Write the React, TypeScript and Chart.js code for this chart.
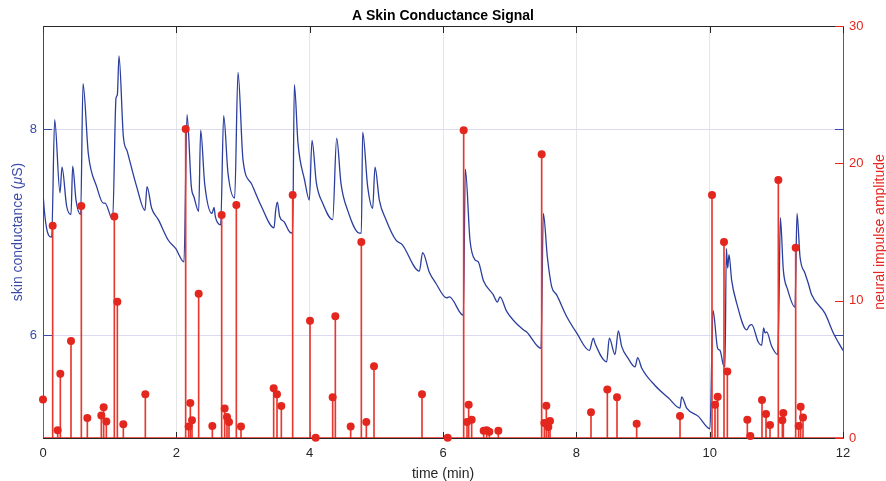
import React, { useEffect, useRef } from "react";
import { Chart, registerables } from "chart.js";

Chart.register(...registerables);

// Skin conductance signal (time in min, value in µS)
const signalTime = [
  0, 0.005, 0.13, 0.175, 0.255, 0.285, 0.355, 0.42, 0.445, 0.495, 0.565, 0.6, 0.68, 0.805, 0.905, 0.93,
  1.045, 1.095, 1.115, 1.14, 1.205, 1.265, 1.405, 1.53, 1.56, 1.63, 1.73, 1.88, 1.99, 2.115, 2.16, 2.225,
  2.265, 2.335, 2.365, 2.425, 2.535, 2.565, 2.585, 2.665, 2.71, 2.775, 2.875, 2.925, 3.0, 3.125, 3.275,
  3.465, 3.49, 3.515, 3.55, 3.615, 3.7, 3.745, 3.77, 3.825, 3.925, 3.995, 4.035, 4.1, 4.195, 4.345, 4.405,
  4.47, 4.57, 4.745, 4.775, 4.795, 4.87, 4.945, 4.98, 5.045, 5.145, 5.295, 5.385, 5.645, 5.695, 5.795,
  5.895, 6.055, 6.095, 6.305, 6.335, 6.405, 6.48, 6.53, 6.605, 6.755, 6.815, 6.855, 6.955, 7.205, 7.255,
  7.47, 7.505, 7.565, 7.63, 7.705, 7.855, 8.005, 8.195, 8.255, 8.28, 8.455, 8.495, 8.58, 8.63, 8.68, 8.78,
  8.88, 8.92, 8.98, 9.18, 9.38, 9.555, 9.58, 9.655, 9.83, 10.005, 10.05, 10.12, 10.155, 10.205, 10.23,
  10.25, 10.27, 10.29, 10.33, 10.405, 10.555, 10.595, 10.63, 10.73, 10.78, 10.81, 10.83, 10.855, 10.93,
  11.02, 11.04, 11.06, 11.105, 11.17, 11.28, 11.31, 11.355, 11.43, 11.48, 11.53, 11.73, 11.855, 12.0,
];
const signalValue = [
  9.0, 7.33, 6.95, 8.09, 7.38, 7.63, 7.25, 7.17, 7.64, 7.31, 7.17, 8.44, 7.76, 7.44, 7.28, 7.28,
  7.12, 8.3, 8.33, 8.71, 7.93, 7.78, 7.44, 7.21, 7.44, 7.23, 7.12, 6.92, 6.84, 6.71, 8.14, 7.44,
  7.34, 7.2, 7.99, 7.47, 7.18, 7.24, 7.15, 7.07, 8.13, 7.57, 7.33, 8.55, 7.7, 7.47, 7.25,
  7.04, 7.21, 7.29, 7.15, 7.1, 7.0, 6.99, 8.43, 7.86, 7.5, 7.31, 7.89, 7.48, 7.28, 7.12, 7.91,
  7.47, 7.21, 6.99, 6.99, 7.97, 7.44, 7.23, 7.63, 7.31, 7.12, 6.92, 6.88, 6.62, 6.8, 6.61,
  6.5, 6.36, 6.37, 6.19, 7.61, 6.92, 6.73, 6.71, 6.53, 6.39, 6.32, 6.37, 6.23, 6.05, 6.03,
  5.87, 7.18, 6.76, 6.47, 6.39, 6.18, 6.02, 5.85, 5.97, 5.92, 5.74, 5.97, 5.81, 6.04, 5.89, 5.77,
  5.69, 5.78, 5.68, 5.51, 5.39, 5.29, 5.4, 5.29, 5.21, 5.09, 6.24, 5.87, 5.85, 5.71, 5.69,
  6.84, 6.65, 6.78, 6.53, 6.31, 6.05, 6.09, 6.1, 5.93, 5.9, 6.07, 6.02, 6.03, 5.89,
  5.81, 6.31, 7.14, 6.63, 6.44, 6.27, 7.18, 6.76, 6.6, 6.5, 6.39, 6.21, 6.02, 5.85,
];

// Neural impulses (time in min, amplitude)
const impulseTime = [
  0, 0.145, 0.22, 0.26, 0.42, 0.575, 0.665, 0.875, 0.91, 0.95, 1.07, 1.115, 1.205, 1.535,
  2.14, 2.185, 2.21, 2.235, 2.335, 2.54, 2.68, 2.725, 2.76, 2.79, 2.9, 2.97, 3.46, 3.51, 3.575, 3.745,
  4.005, 4.09, 4.345, 4.385, 4.615, 4.775, 4.85, 4.965, 5.685, 6.07, 6.31, 6.36, 6.385, 6.43,
  6.61, 6.655, 6.695, 6.83, 7.48, 7.52, 7.55, 7.58, 7.605, 8.22, 8.465, 8.61, 8.905, 9.555,
  10.035, 10.08, 10.12, 10.215, 10.265, 10.565, 10.61, 10.785, 10.845, 10.905, 11.03, 11.09, 11.105,
  11.29, 11.335, 11.365, 11.4,
];
const impulseAmp = [
  2.8, 15.46, 0.56, 4.68, 7.06, 16.9, 1.46, 1.63, 2.23, 1.21, 16.12, 9.93, 1.0, 3.18,
  22.5, 0.83, 2.55, 1.29, 10.51, 0.87, 16.24, 2.14, 1.53, 1.17, 16.97, 0.83, 3.62, 3.18, 2.33, 17.7,
  8.54, 0.02, 2.96, 8.86, 0.83, 14.27, 1.17, 5.22, 3.18, 0.02, 22.4, 1.17, 2.43, 1.33,
  0.53, 0.56, 0.46, 0.53, 20.66, 1.09, 2.35, 0.8, 1.24, 1.87, 3.54, 2.96, 1.04, 1.6,
  17.7, 2.43, 3.01, 14.27, 4.85, 1.33, 0.15, 2.77, 1.75, 0.95, 18.79, 1.29, 1.82,
  13.86, 0.87, 2.28, 1.5,
];

const xTicks = [0, 2, 4, 6, 8, 10, 12];
const leftTicks = [6, 8];
const rightTicks = [0, 10, 20, 30];

const FONT = "'Liberation Sans', Arial, Helvetica, sans-serif";
const BLUE = "#2b3e9e";
const AXBLUE = "#3a4ca8";
const RED = "#e3271f";
const STEM = "#e6382f";
const DARK = "#262626";

export default function App() {
  const ref = useRef<HTMLCanvasElement>(null);

  useEffect(() => {
    const canvas = ref.current!;
    const signal = signalTime.map((t, i) => ({ x: t, y: signalValue[i] }));
    const impulses = impulseTime.map((t, i) => ({ x: t, y: impulseAmp[i] }));

    const decor = {
      id: "decor",
      beforeDatasetsDraw(chart: any) {
        const { ctx, chartArea, scales } = chart;
        const { left, right, top, bottom } = chartArea;
        const seg = (x1: number, y1: number, x2: number, y2: number, c: string) => {
          ctx.strokeStyle = c;
          ctx.beginPath();
          ctx.moveTo(x1, y1);
          ctx.lineTo(x2, y2);
          ctx.stroke();
        };
        ctx.save();
        ctx.lineWidth = 1;
        seg(left, top + 0.5, right + 1, top + 0.5, DARK);
        seg(left, bottom + 0.5, right + 1, bottom + 0.5, DARK);
        seg(left + 0.5, top, left + 0.5, bottom + 1, AXBLUE);
        seg(right + 0.5, top, right + 0.5, bottom + 1, RED);
        for (const v of xTicks) {
          const px = Math.round(scales.x.getPixelForValue(v)) + 0.5;
          seg(px, top, px, top + 7, DARK);
          seg(px, bottom + 1, px, bottom - 6, DARK);
        }
        for (const v of leftTicks) {
          const py = Math.round(scales.y.getPixelForValue(v)) + 0.5;
          seg(left, py, left + 9, py, AXBLUE);
          seg(right + 1, py, right - 8, py, AXBLUE);
        }
        for (const v of rightTicks) {
          const py = Math.round(scales.y1.getPixelForValue(v)) + 0.5;
          seg(right + 1, py, right - 8, py, RED);
        }
        ctx.restore();
      },
      afterDraw(chart: any) {
        const { ctx, chartArea } = chart;
        const { left, right, top, bottom } = chartArea;
        const midX = (left + right) / 2;
        const midY = (top + bottom) / 2;
        ctx.save();
        ctx.fillStyle = "#000";
        ctx.font = `bold 14px ${FONT}`;
        ctx.textAlign = "center";
        ctx.textBaseline = "alphabetic";
        ctx.fillText("A Skin Conductance Signal", 443, 20);

        ctx.font = `14px ${FONT}`;
        ctx.fillStyle = DARK;
        ctx.textBaseline = "middle";
        ctx.fillText("time (min)", midX, 474);

        // left title with italic mu
        const parts = [
          { t: "skin conductance (", f: `14px ${FONT}` },
          { t: "\u03bc", f: `italic 14px ${FONT}` },
          { t: "S)", f: `14px ${FONT}` },
        ];
        let total = 0;
        for (const p of parts) {
          ctx.font = p.f;
          total += ctx.measureText(p.t).width;
        }
        ctx.save();
        ctx.translate(18, midY);
        ctx.rotate(-Math.PI / 2);
        ctx.fillStyle = AXBLUE;
        ctx.textAlign = "left";
        let cx = -total / 2;
        for (const p of parts) {
          ctx.font = p.f;
          ctx.fillText(p.t, cx, 0);
          cx += ctx.measureText(p.t).width;
        }
        ctx.restore();

        ctx.save();
        ctx.translate(880, midY);
        ctx.rotate(-Math.PI / 2);
        ctx.fillStyle = RED;
        ctx.font = `14px ${FONT}`;
        ctx.textAlign = "center";
        ctx.fillText("neural impulse amplitude", 0, 0);
        ctx.restore();
        ctx.restore();
      },
    };

    const chart = new Chart(canvas, {
      type: "line",
      data: {
        datasets: [
          {
            type: "line",
            label: "signal",
            data: signal,
            yAxisID: "y",
            borderColor: BLUE,
            borderWidth: 1.3,
            pointRadius: 0,
            fill: false,
            cubicInterpolationMode: "monotone",
            order: 4,
          } as any,
          {
            type: "bar",
            label: "stems",
            data: impulses,
            yAxisID: "y1",
            backgroundColor: STEM,
            borderWidth: 0,
            barThickness: 1,
            order: 3,
          } as any,
          {
            type: "line",
            label: "baseline",
            data: [
              { x: 0, y: 0 },
              { x: 12, y: 0 },
            ],
            yAxisID: "y1",
            borderColor: RED,
            borderWidth: 1.3,
            pointRadius: 0,
            order: 2,
          } as any,
          {
            type: "scatter",
            label: "impulses",
            data: impulses,
            yAxisID: "y1",
            pointRadius: 4,
            pointHoverRadius: 4,
            backgroundColor: RED,
            borderWidth: 0,
            showLine: false,
            clip: false,
            order: 1,
          } as any,
        ],
      },
      options: {
        responsive: false,
        animation: false,
        devicePixelRatio: 1,
        layout: { padding: { top: 26, left: 0, right: 0, bottom: 0 } },
        plugins: {
          legend: { display: false },
          tooltip: { enabled: false },
          title: { display: false },
        },
        scales: {
          x: {
            type: "linear",
            min: 0,
            max: 12,
            offset: false,
            afterBuildTicks: (s: any) => {
              s.ticks = xTicks.map((v) => ({ value: v }));
            },
            afterFit: (s: any) => {
              s.height = 43;
            },
            ticks: {
              color: DARK,
              font: { family: FONT, size: 13 },
              padding: 7.2,
              maxRotation: 0,
              autoSkip: false,
            },
            grid: { color: "#e6e6e6", drawTicks: false, offset: false },
            border: { display: false },
          },
          y: {
            type: "linear",
            position: "left",
            min: 5,
            max: 9,
            afterBuildTicks: (s: any) => {
              s.ticks = leftTicks.map((v) => ({ value: v }));
            },
            afterFit: (s: any) => {
              s.width = 43;
            },
            ticks: { color: AXBLUE, font: { family: FONT, size: 13 }, padding: 6 },
            grid: { color: "#dadaf0", drawTicks: false },
            border: { display: false },
          },
          y1: {
            type: "linear",
            position: "right",
            min: 0,
            max: 30,
            afterBuildTicks: (s: any) => {
              s.ticks = rightTicks.map((v) => ({ value: v }));
            },
            afterFit: (s: any) => {
              s.width = 43;
            },
            ticks: { color: RED, font: { family: FONT, size: 13 }, padding: 6 },
            grid: { display: false, drawTicks: false },
            border: { display: false },
          },
        },
      } as any,
      plugins: [decor],
    });
    return () => chart.destroy();
  }, []);

  return (
    <div style={{ position: "absolute", left: 0, top: 0, width: 886, height: 481, background: "#fff" }}>
      <canvas ref={ref} width={886} height={481} style={{ display: "block" }} />
    </div>
  );
}
